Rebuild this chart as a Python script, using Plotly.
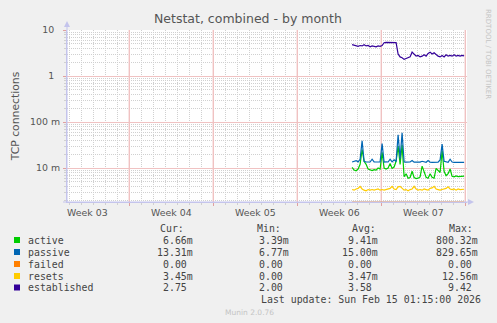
import pandas as pd
import plotly.graph_objects as go

# ---------------- data (4-hour samples) ----------------
sample_start = "2026-02-06 14:00"
n_samples = 57
times = pd.date_range(sample_start, periods=n_samples, freq="4h")

# values in milli-connections (m)
active_m = [10.3, 9.0, 8.7, 9.5, 12, 25, 14, 12, 9.5, 9.0,
            8.8, 9.2, 9.0, 10, 9.5, 22, 10, 9.5, 10, 12.5,
            9.8, 10.5, 14, 30, 12, 32, 6.5, 7.5, 6.0, 6.2,
            8.5, 6.2, 5.9, 6.0, 6.4, 11, 8.5, 6.3, 6.0, 7.5,
            6.3, 6.0, 9.8, 9.0, 8.0, 24, 8.5, 6.8, 7.5, 9.5,
            6.6, 6.4, 6.7, 6.5, 6.6, 6.5, 6.66]
passive_m = [13.5, 13.8, 14.5, 13.6, 15.5, 39, 14.0, 13.5, 13.6, 13.5,
             15.5, 13.6, 13.5, 13.5, 13.6, 34, 13.5, 13.6, 13.5, 15.5,
             13.6, 15.0, 13.8, 53, 16, 58, 13.5, 13.4, 13.4, 13.5,
             14.5, 13.4, 13.4, 13.3, 13.4, 14.0, 13.4, 13.3, 14.5, 13.4,
             13.3, 13.4, 13.3, 13.4, 15.0, 33, 14.0, 13.4, 13.3, 15.5,
             13.5, 13.3, 13.4, 13.3, 13.3, 13.3, 13.31]
failed = [0, 0, 0, 0, 0, 0, 0, 0, 0, 0, 0, 0, 0, 0, 0, 0, 0, 0, 0, 0,
          0, 0, 0, 0, 0, 0, 0, 0, 0, 0, 0, 0, 0, 0, 0, 0, 0, 0, 0, 0,
          0, 0, 0, 0, 0, 0, 0, 0, 0, 0, 0, 0, 0, 0, 0, 0, 0]
resets_m = [3.4, 3.3, 3.5, 3.6, 4.0, 3.5, 3.3, 3.2, 3.4, 3.3,
            3.4, 3.3, 3.4, 3.5, 3.3, 3.4, 3.3, 3.4, 3.5, 3.6,
            4.0, 3.5, 3.4, 3.9, 4.0, 3.6, 3.3, 3.4, 3.2, 3.4,
            3.5, 4.0, 3.5, 3.3, 3.4, 3.3, 3.5, 3.4, 3.3, 3.6,
            3.7, 4.0, 3.5, 3.4, 3.3, 3.4, 3.5, 3.6, 3.9, 3.5,
            3.4, 3.5, 3.3, 3.5, 3.4, 3.4, 3.45]
established = [4.8, 4.6, 4.5, 4.4, 4.6, 4.5, 4.8, 4.5, 4.6, 4.3,
               4.5, 4.4, 4.3, 4.5, 4.4, 4.6, 5.3, 5.4, 5.4, 5.4,
               5.4, 5.4, 5.3, 3.0, 2.6, 2.5, 2.3, 2.4, 2.5, 2.6,
               3.3, 3.0, 2.7, 2.8, 2.6, 2.7, 2.9, 2.7, 3.1, 3.3,
               3.0, 3.2, 2.9, 2.7, 2.6, 2.8, 2.6, 2.9, 2.7, 2.8,
               2.7, 2.9, 2.7, 2.8, 2.7, 2.8, 2.75]

series_names = ["active", "passive", "failed", "resets", "established"]
series_colors = ["#00CC00", "#0066B3", "#FF8000", "#FFCC00", "#330099"]
cur_vals = ["6.66m", "13.31m", "0.00\u00a0", "3.45m", "2.75\u00a0"]
min_vals = ["3.39m", "6.77m", "0.00\u00a0", "0.00\u00a0", "2.00\u00a0"]
avg_vals = ["9.41m", "15.00m", "0.00\u00a0", "3.47m", "3.58\u00a0"]
max_vals = ["800.32m", "829.65m", "0.00\u00a0", "12.56m", "9.42\u00a0"]

# 400 px spanning 33 1/3 days -> 12 px per day
x_range = ["2026-01-13 19:48", "2026-02-16 03:48"]
week_starts = ["2026-01-19", "2026-01-26", "2026-02-02", "2026-02-09", "2026-02-16"]
week_mids = ["2026-01-15 12:00", "2026-01-22 12:00", "2026-01-29 12:00",
             "2026-02-05 12:00", "2026-02-12 12:00"]
week_labels = ["Week 03", "Week 04", "Week 05", "Week 06", "Week 07"]
# 172 px high, ~46 px per decade, top at 10
y_range = [1 - 172 / 46, 1]
y_tickvals = [0.01, 0.1, 1, 10]
y_ticktext = ["10 m", "100 m", "1\u2007", "10\u2007"]
y_minor = [m * 10.0 ** e for e in (-3, -2, -1, 0) for m in range(2, 10)]
# daily grid positions (non-Monday midnights)
day_grid = [d.strftime("%Y-%m-%d") for d in pd.date_range("2026-01-14", "2026-02-15", freq="D")
            if d.weekday() != 0]

# ---------------- geometry ----------------
W, H = 497, 323
PL, PR, PT, PB = 67, 467, 30, 202


def fx(px):
    return (px - PL) / (PR - PL)


def fy(py):
    return (PB - py) / (PB - PT)


GRID = "#d0d0d0"
MGRID = "#f0c2c2"
AXIS = "#c4c4ec"
TXT = "#555555"

fig = go.Figure()
scale = 1e-3
data_map = {
    "active": [v * scale for v in active_m],
    "passive": [v * scale for v in passive_m],
    "resets": [v * scale for v in resets_m],
    "established": established,
}
for name, col in zip(series_names, series_colors):
    if name == "failed":
        # zero values drawn on a hidden linear axis so they sit on the bottom edge
        fig.add_trace(go.Scatter(x=times, y=failed, mode="lines", name=name,
                                 line=dict(color=col, width=1.2),
                                 yaxis="y3", hoverinfo="skip"))
    else:
        fig.add_trace(go.Scatter(x=times, y=data_map[name], mode="lines", name=name,
                                 line=dict(color=col, width=1.2)))

fig.update_layout(
    width=W, height=H,
    margin=dict(l=PL, r=W - PR, t=PT, b=H - PB, pad=0),
    paper_bgcolor="#F0F0F0", plot_bgcolor="#FFFFFF",
    showlegend=False,
    font=dict(family="DejaVu Sans", size=9.4, color=TXT),
    xaxis=dict(
        type="date", range=x_range,
        tickmode="array", tickvals=week_starts, showticklabels=False,
        showgrid=True, gridcolor=MGRID, gridwidth=1,
        ticks="outside", ticklen=3, tickcolor="#e0a0a0",
        minor=dict(tickmode="array", tickvals=day_grid, showgrid=True,
                   gridcolor=GRID, griddash="1px,1px", gridwidth=1,
                   ticks="outside", ticklen=2, tickcolor=GRID),
        showline=True, linecolor=AXIS, linewidth=1, zeroline=False,
    ),
    yaxis=dict(
        type="log", range=y_range,
        tickmode="array", tickvals=y_tickvals, ticktext=y_ticktext,
        showgrid=True, gridcolor=MGRID, gridwidth=1,
        ticks="outside", ticklen=3, tickcolor="#e0a0a0",
        minor=dict(tickmode="array", tickvals=y_minor, showgrid=True,
                   gridcolor=GRID, griddash="1px,1px", gridwidth=1,
                   ticks="outside", ticklen=2, tickcolor=GRID),
        showline=True, linecolor=AXIS, linewidth=1, zeroline=False,
        ticklabelstandoff=1,
        title=dict(text="TCP connections", font=dict(size=10.8, color=TXT), standoff=8),
    ),
    yaxis3=dict(range=[0, 1], overlaying="y", anchor="x", visible=False),
)


def note(text, px, py, xa="center", ya="middle", **kw):
    return dict(text=text, x=fx(px), y=fy(py), xref="paper", yref="paper",
                xanchor=xa, yanchor=ya, showarrow=False, **kw)


ann = []
ann.append(note("Netstat, combined - by month", 247.5, 18,
                font=dict(family="DejaVu Sans", size=12.5, color=TXT)))
ann.append(note("RRDTOOL / TOBI OETIKER", 488.5, 53.5, textangle=90,
                font=dict(family="DejaVu Sans", size=7, color="#c4c4c4")))
ann.append(note("Munin 2.0.76", 249, 312,
                font=dict(family="DejaVu Sans", size=7.5, color="#c4c4c4")))
# week labels centred in each week, on the date axis
for wm, wl in zip(week_mids, week_labels):
    ann.append(dict(text=wl, x=wm, xref="x", y=fy(212), yref="paper",
                    xanchor="center", yanchor="middle", showarrow=False,
                    font=dict(family="DejaVu Sans", size=9.4, color=TXT)))

MONO = dict(family="DejaVu Sans Mono", size=9.9, color="#444444")
hdr_y = 228
for txt, xl in [("Cur:", 158), ("Min:", 255), ("Avg:", 350), ("Max:", 447)]:
    ann.append(note(txt, xl, hdr_y, xa="left", font=MONO))
row_y = [240, 252, 264, 276, 287.5]
shapes = []
# week boundary (Monday) grid lines, placed on the date axis
for ws in week_starts:
    shapes.append(dict(type="line", xref="x", yref="paper", x0=ws, x1=ws, y0=0, y1=1,
                       layer="below", line=dict(color=MGRID, width=1)))
for i, name in enumerate(series_names):
    ry = row_y[i]
    shapes.append(dict(type="rect", xref="paper", yref="paper",
                       x0=fx(14), x1=fx(20), y0=fy(ry + 3), y1=fy(ry - 3),
                       fillcolor=series_colors[i], line=dict(width=0)))
    ann.append(note(name, 26, ry, xa="left", font=MONO))
    for vals, xr in [(cur_vals, 194.5), (min_vals, 291), (avg_vals, 379.5), (max_vals, 479.5)]:
        ann.append(note(vals[i], xr, ry, xa="right", font=MONO))
ann.append(note("Last update: Sun Feb 15 01:15:00 2026", 482.5, 299, xa="right", font=MONO))

# axis arrowheads
shapes.append(dict(type="path", xref="paper", yref="paper",
                   path=f"M {fx(64)},{fy(27)} L {fx(70)},{fy(27)} L {fx(67)},{fy(21)} Z",
                   fillcolor=AXIS, line=dict(width=0)))
shapes.append(dict(type="path", xref="paper", yref="paper",
                   path=f"M {fx(468)},{fy(199)} L {fx(468)},{fy(205)} L {fx(474)},{fy(202)} Z",
                   fillcolor=AXIS, line=dict(width=0)))
shapes.append(dict(type="line", xref="paper", yref="paper",
                   x0=fx(67), x1=fx(67), y0=fy(202), y1=fy(27),
                   line=dict(color=AXIS, width=1)))
shapes.append(dict(type="line", xref="paper", yref="paper",
                   x0=fx(63), x1=fx(468), y0=fy(202), y1=fy(202),
                   line=dict(color=AXIS, width=1)))

fig.update_layout(annotations=ann, shapes=shapes)
fig.write_html("out.html")
